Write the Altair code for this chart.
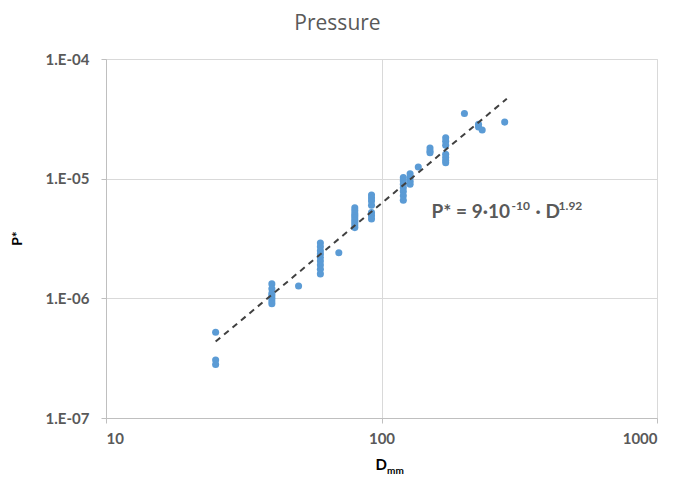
import altair as alt
import pandas as pd

# Scatter data (D in mm, P* dimensionless)
D_mm = [25, 25, 25,
        40, 40, 40, 40, 40, 40, 40,
        50,
        60, 60, 60, 60, 60, 60, 60, 60, 60,
        70,
        80, 80, 80, 80, 80, 80, 80, 80, 80,
        92, 92, 92, 92, 92, 92, 92,
        120, 120, 120, 120, 120, 120, 120,
        127, 127, 127, 127,
        136,
        150, 150, 150,
        171, 171, 171, 171, 171, 171, 171,
        200,
        225, 225, 232,
        280]
P_star = [5.2e-7, 3.05e-7, 2.8e-7,
          1.32e-6, 1.2e-6, 1.1e-6, 1.05e-6, 1.0e-6, 0.95e-6, 0.9e-6,
          1.27e-6,
          2.9e-6, 2.7e-6, 2.5e-6, 2.35e-6, 2.2e-6, 2.05e-6, 1.9e-6, 1.75e-6, 1.6e-6,
          2.4e-6,
          5.7e-6, 5.4e-6, 5.1e-6, 4.9e-6, 4.7e-6, 4.5e-6, 4.3e-6, 4.1e-6, 3.9e-6,
          7.3e-6, 6.9e-6, 6.5e-6, 6.0e-6, 5.2e-6, 4.9e-6, 4.6e-6,
          1.02e-5, 9.6e-6, 9.0e-6, 8.4e-6, 7.8e-6, 7.2e-6, 6.6e-6,
          1.1e-5, 1.02e-5, 9.5e-6, 9.0e-6,
          1.25e-5,
          1.8e-5, 1.7e-5, 1.65e-5,
          2.2e-5, 2.05e-5, 1.9e-5, 1.6e-5, 1.5e-5, 1.42e-5, 1.36e-5,
          3.5e-5,
          2.85e-5, 2.7e-5, 2.55e-5,
          2.97e-5]

# Power-law trend line end points (P* = 9e-10 * D^1.92)
trend_D = [25, 285]
trend_P = [4.35e-7, 4.65e-5]

x_ticks = [10, 100, 1000]
y_ticks = [1e-7, 1e-6, 1e-5, 1e-4]

eq_D = [152]
eq_P = [5.27e-6]

df = pd.DataFrame({"D": D_mm, "P": P_star})
tr = pd.DataFrame({"D": trend_D, "P": trend_P})
eq = pd.DataFrame({"D": eq_D, "P": eq_P})

GRAY = "#595959"
FONT = "Lato"

xs = alt.Scale(type="log", domain=[10, 1000], nice=False)
ys = alt.Scale(type="log", domain=[1e-7, 1e-4], nice=False)

xaxis = alt.Axis(values=x_ticks, format="d", title=None, grid=True,
                 gridColor="#d9d9d9", domainColor="#bfbfbf", tickColor="#bfbfbf",
                 tickSize=5, labelPadding=8, labelFont=FONT, labelFontSize=15,
                 labelFontWeight="bold", labelColor=GRAY)
yaxis = alt.Axis(values=y_ticks, labelExpr="'1.E-0' + round(-log(datum.value)/LN10)",
                 title="P*", titleX=-89, titleY=179, titleAngle=-90,
                 titleBaseline="middle", titleFont=FONT, titleFontSize=14,
                 titleFontWeight="bold", titleColor="#000000",
                 grid=True, gridColor="#d9d9d9", domainColor="#bfbfbf",
                 tickColor="#bfbfbf", tickSize=5, labelPadding=12, labelFont=FONT,
                 labelFontSize=15, labelFontWeight="bold", labelColor=GRAY)

x_enc = alt.X("D:Q", scale=xs, axis=xaxis)
y_enc = alt.Y("P:Q", scale=ys, axis=yaxis)

points = alt.Chart(df).mark_circle(size=50, color="#5b9bd5", opacity=1).encode(x=x_enc, y=y_enc)
trend = alt.Chart(tr).mark_line(color="#404040", strokeDash=[6, 5], strokeWidth=2).encode(
    x=alt.X("D:Q", scale=xs), y=alt.Y("P:Q", scale=ys))

def eq_text(txt, dx, dy, size):
    return alt.Chart(eq).mark_text(text=txt, align="left", baseline="middle", dx=dx, dy=dy,
                                   fontSize=size, fontWeight="bold", font=FONT,
                                   color=GRAY).encode(
        x=alt.X("D:Q", scale=xs), y=alt.Y("P:Q", scale=ys))

eq_layers = [
    eq_text("P* = 9·10", 0, 0, 19),
    eq_text("-10", 80, -6, 12),
    eq_text("· D", 104, 0, 19),
    eq_text("1.92", 127, -6, 12),
]

xtitle_D = alt.Chart(eq).mark_text(text="D", align="right", baseline="middle", fontSize=15,
                                   fontWeight="bold", font=FONT, color="#000000").encode(
    x=alt.value(281), y=alt.value(406))
xtitle_mm = alt.Chart(eq).mark_text(text="mm", align="left", baseline="middle", fontSize=10,
                                    fontWeight="bold", font=FONT, color="#000000").encode(
    x=alt.value(281), y=alt.value(412))

chart = alt.layer(points, trend, *eq_layers, xtitle_D, xtitle_mm).properties(
    width=551, height=359,
    title=alt.TitleParams("Pressure", fontSize=21, color=GRAY, font="Open Sans",
                          fontWeight="normal", anchor="middle", dx=-44, offset=18),
    autosize=alt.AutoSizeParams(type="none"),
    padding={"left": 98, "top": 51, "right": 10, "bottom": 58},
).configure_view(stroke=None).configure(background="white")

chart.save("out.html", embed_options={"renderer": "svg", "actions": False})
